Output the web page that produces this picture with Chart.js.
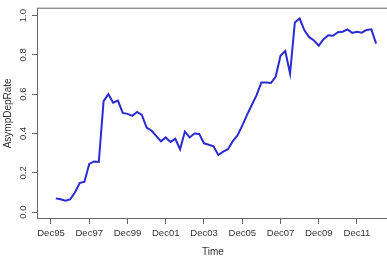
<!DOCTYPE html>
<html><head><meta charset="utf-8">
<script src="https://cdn.jsdelivr.net/npm/chart.js@4"></script>
<style>html,body{margin:0;padding:0;background:#fff;overflow:hidden;}#wrap{width:392px;height:260px;}</style>
</head><body><div id="wrap"><canvas id="c" width="392" height="260"></canvas></div>
<script>
const quarters = [
  "Mar96","Jun96","Sep96","Dec96","Mar97","Jun97","Sep97","Dec97",
  "Mar98","Jun98","Sep98","Dec98","Mar99","Jun99","Sep99","Dec99",
  "Mar00","Jun00","Sep00","Dec00","Mar01","Jun01","Sep01","Dec01",
  "Mar02","Jun02","Sep02","Dec02","Mar03","Jun03","Sep03","Dec03",
  "Mar04","Jun04","Sep04","Dec04","Mar05","Jun05","Sep05","Dec05",
  "Mar06","Jun06","Sep06","Dec06","Mar07","Jun07","Sep07","Dec07",
  "Mar08","Jun08","Sep08","Dec08","Mar09","Jun09","Sep09","Dec09",
  "Mar10","Jun10","Sep10","Dec10","Mar11","Jun11","Sep11","Dec11",
  "Mar12","Jun12","Sep12","Dec12"
];
const asympDepRate = [
  0.070,0.065,0.058,0.065,0.100,0.148,0.155,0.245,
  0.258,0.255,0.565,0.600,0.557,0.567,0.505,0.500,
  0.490,0.510,0.495,0.430,0.415,0.388,0.360,0.380,
  0.357,0.373,0.320,0.410,0.380,0.400,0.398,0.350,
  0.343,0.335,0.290,0.308,0.320,0.360,0.390,0.440,
  0.495,0.545,0.595,0.660,0.660,0.657,0.690,0.795,
  0.820,0.705,0.965,0.985,0.925,0.890,0.873,0.847,
  0.880,0.900,0.897,0.915,0.918,0.930,0.912,0.918,
  0.913,0.927,0.930,0.857
];
const xTickLabels = ["Dec95","Dec97","Dec99","Dec01","Dec03","Dec05","Dec07","Dec09","Dec11"];
const yTickValues = [0.0,0.2,0.4,0.6,0.8,1.0];
const xLimits = [1995.185, 2013.59];
const yLimits = [-0.035, 1.04];

const MONTHS = {Mar:3,Jun:6,Sep:9,Dec:12};
function toTime(lbl){
  const m = MONTHS[lbl.slice(0,3)];
  const yy = +lbl.slice(3);
  const y = yy < 50 ? 2000 + yy : 1900 + yy;
  return y + (m - 1) / 12;
}

const FONT = "'Liberation Sans', Arial, sans-serif";
const TXT = '#333';

const boxPlugin = {
  id: 'box',
  afterDraw(chart){
    const {ctx, chartArea:a} = chart;
    ctx.save();
    ctx.strokeStyle = '#666';
    ctx.lineWidth = 1;
    ctx.strokeRect(a.left + 0.5, a.top + 0.5, a.right - a.left - 1, a.bottom - a.top - 1);
    ctx.restore();
  }
};

new Chart(document.getElementById('c'), {
  type: 'line',
  data: {
    datasets: [{
      label: 'AsympDepRate',
      data: quarters.map((q, i) => ({x: toTime(q), y: asympDepRate[i]})),
      borderColor: '#2b2bd3',
      borderWidth: 2,
      pointRadius: 0,
      tension: 0,
      fill: false
    }]
  },
  options: {
    responsive: false,
    animation: false,
    devicePixelRatio: 1,
    layout: {padding: {top: 4, right: 3, left: 0, bottom: 0}},
    plugins: {legend: {display: false}, tooltip: {enabled: false}},
    scales: {
      x: {
        type: 'linear',
        min: xLimits[0], max: xLimits[1],
        afterBuildTicks: s => { s.ticks = xTickLabels.map(l => ({value: toTime(l)})); },
        afterFit: s => { s.height = 41; },
        ticks: {
          autoSkip: false, minRotation: 0, maxRotation: 0,
          callback: (v, i) => xTickLabels[i],
          font: {family: FONT, size: 9.5}, color: TXT, padding: 4
        },
        grid: {display: true, drawOnChartArea: false, drawTicks: true, tickLength: 5, color: '#666'},
        border: {display: false},
        title: {display: true, text: 'Time', font: {family: FONT, size: 10}, color: TXT, padding: {top: 0, bottom: 2}}
      },
      y: {
        type: 'linear',
        min: yLimits[0], max: yLimits[1],
        afterBuildTicks: s => { s.ticks = yTickValues.map(v => ({value: v})); },
        afterFit: s => { s.width = 37; },
        ticks: {
          autoSkip: false, minRotation: 90, maxRotation: 90, crossAlign: 'center',
          callback: v => v.toFixed(1),
          font: {family: FONT, size: 9.5}, color: TXT, padding: 2
        },
        grid: {display: true, drawOnChartArea: false, drawTicks: true, tickLength: 5, color: '#666'},
        border: {display: false},
        title: {display: true, text: 'AsympDepRate', font: {family: FONT, size: 10}, color: TXT, padding: {top: 2, bottom: 0}}
      }
    }
  },
  plugins: [boxPlugin]
});
</script>
</body></html>
